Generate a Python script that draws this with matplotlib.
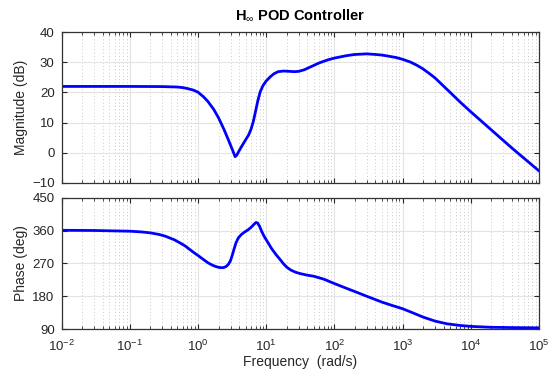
import matplotlib
matplotlib.use('Agg')
import matplotlib.pyplot as plt
from matplotlib.ticker import FixedLocator, LogLocator, NullFormatter

plt.rcParams['font.family'] = ['Liberation Sans', 'DejaVu Sans']
plt.rcParams['mathtext.fontset'] = 'custom'
plt.rcParams['mathtext.rm'] = 'Liberation Sans'
plt.rcParams['mathtext.bf'] = 'Liberation Sans:bold'

# magnitude response
mag_freq = [0.01, 0.1, 0.3, 0.5, 0.6, 0.7, 0.85, 1.0, 1.2, 1.4, 1.7, 2.0, 2.4,
            2.8, 3.2, 3.5, 3.7, 4.0, 4.5, 5.0, 5.5, 6.0, 6.5, 7.0, 7.5, 8.2,
            9.0, 10, 11.5, 13, 15, 18, 22, 26, 30, 36, 45, 60, 80, 100, 150,
            200, 300, 400, 500, 600, 800, 1000, 1300, 1600, 2000, 2500, 3000,
            4000, 5000, 7000, 10000, 20000, 40000, 100000]
mag_db = [22.0, 22.0, 21.95, 21.8, 21.6, 21.3, 20.8, 20.1, 18.6, 17.0, 14.4,
          11.6, 7.8, 4.2, 1.0, -1.3, -0.8, 0.6, 2.6, 4.3, 5.8, 7.8, 10.5, 13.8,
          17.0, 20.3, 22.3, 23.8, 25.2, 26.2, 26.9, 27.1, 27.0, 26.9, 27.0,
          27.5, 28.5, 29.8, 30.8, 31.4, 32.2, 32.6, 32.8, 32.6, 32.4, 32.1,
          31.6, 31.0, 30.1, 29.1, 27.8, 26.2, 24.8, 22.1, 20.0, 16.8, 13.6,
          7.6, 1.6, -6.0]

# phase response
ph_freq = [0.01, 0.03, 0.1, 0.15, 0.2, 0.27, 0.33, 0.45, 0.55, 0.65, 0.75, 0.9,
           1.0, 1.2, 1.4, 1.6, 1.8, 2.0, 2.2, 2.4, 2.6, 2.8, 3.0, 3.2, 3.4,
           3.6, 3.9, 4.3, 4.8, 5.4, 6.0, 6.6, 7.1, 7.5, 8.0, 8.6, 9.3, 10.1,
           12, 14, 16, 18, 20, 23, 27, 32, 40, 50, 70, 100, 150, 200, 300, 500,
           700, 1000, 1400, 2000, 3000, 4500, 7000, 10000, 20000, 50000, 100000]
ph_deg = [361, 360.5, 358.5, 356.5, 354, 349.5, 345, 335, 326, 318, 309, 298,
          292, 281, 272, 266, 262, 259.5, 258.5, 259, 262, 268, 278, 294, 311,
          326, 340, 349, 356, 362, 369, 377, 382.5, 381, 372, 358, 345, 334,
          311, 294, 281, 269, 260, 252, 246, 242, 238, 235, 227, 215, 202, 193,
          180, 164, 155, 146, 135, 123, 112, 104.5, 100, 97.5, 95, 94, 93.5]

freq_ticks = [1e-2, 1e-1, 1e0, 1e1, 1e2, 1e3, 1e4, 1e5]
mag_ticks = [-10, 0, 10, 20, 30, 40]
ph_ticks = [90, 180, 270, 360, 450]

fig = plt.figure(figsize=(5.55, 3.74), dpi=100)
ax1 = fig.add_axes([0.111, 0.511, 0.860, 0.403])
ax2 = fig.add_axes([0.111, 0.120, 0.860, 0.351])

for ax in (ax1, ax2):
    ax.set_xscale('log')
    ax.set_xlim(1e-2, 1e5)
    ax.xaxis.set_major_locator(FixedLocator(freq_ticks))
    ax.xaxis.set_minor_locator(LogLocator(base=10, subs=range(2, 10), numticks=20))
    ax.xaxis.set_minor_formatter(NullFormatter())
    ax.grid(True, which='major', color='#e3e3e3', linewidth=0.8, linestyle='-')
    ax.grid(True, which='minor', axis='x', color='#b8b8b8', linewidth=0.6,
            linestyle=(0, (1, 3)))
    ax.set_axisbelow(True)
    ax.tick_params(which='both', direction='in', top=True, right=True,
                   labelsize=9.5, colors='#262626')
    ax.tick_params(axis='y', pad=5)
    ax.tick_params(axis='x', pad=7)
    ax.tick_params(which='major', length=3.5, width=0.8)
    ax.tick_params(which='minor', length=2, width=0.6)
    for s in ax.spines.values():
        s.set_color('#333333')
        s.set_linewidth(0.9)

ax1.plot(mag_freq, mag_db, color='#0000ff', linewidth=2)
ax1.set_ylim(-10, 40)
ax1.set_yticks(mag_ticks)
ax1.tick_params(labelbottom=False)
ax1.set_ylabel('Magnitude (dB)', fontsize=10, color='#262626', labelpad=3)
ax1.set_title(r'$\mathbf{H}_{\infty}$ POD Controller', fontsize=10.5,
              fontweight='bold', pad=9)

ax2.plot(ph_freq, ph_deg, color='#0000ff', linewidth=2)
ax2.set_ylim(90, 450)
ax2.set_yticks(ph_ticks)
ax2.set_ylabel('Phase (deg)', fontsize=10, color='#262626', labelpad=3)
ax2.set_xlabel('Frequency  (rad/s)', fontsize=10, color='#262626', labelpad=1)

fig.savefig('out.png', dpi=100)
